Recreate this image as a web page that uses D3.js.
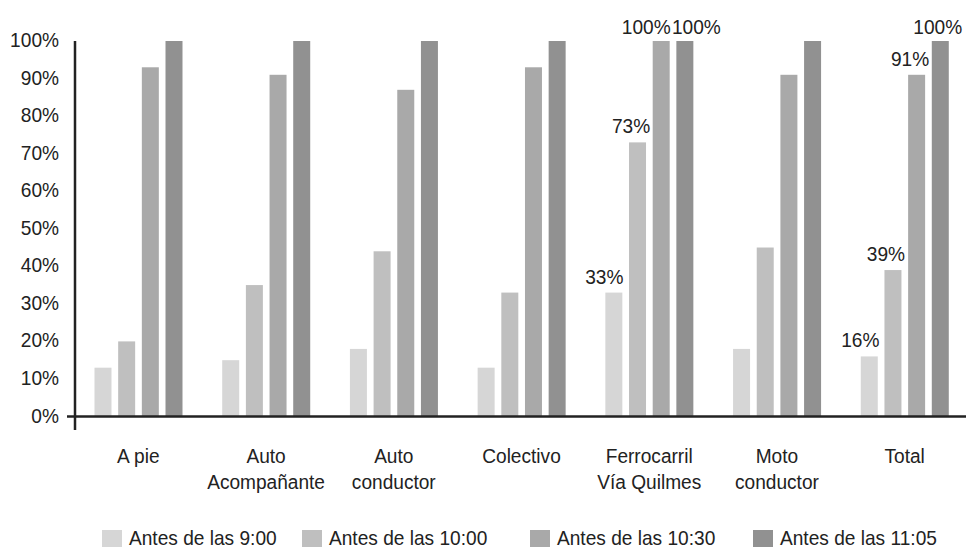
<!DOCTYPE html>
<html>
<head>
<meta charset="utf-8">
<script src="https://cdn.jsdelivr.net/npm/d3@7/dist/d3.min.js"></script>
<style>
  html, body { margin: 0; padding: 0; background: #ffffff; overflow: hidden; }
  svg { display: block; }
  text { font-family: "Liberation Sans", Arial, sans-serif; fill: #222222; }
</style>
</head>
<body>
<svg id="chart" width="966" height="549"></svg>
<script>
// ---- data ----
const categories = ["A pie", "Auto\nAcompañante", "Auto\nconductor", "Colectivo", "Ferrocarril\nVía Quilmes", "Moto\nconductor", "Total"];
const seriesNames = ["Antes de las 9:00", "Antes de las 10:00", "Antes de las 10:30", "Antes de las 11:05"];
const antes0900 = [13, 15, 18, 13, 33, 18, 16];
const antes1000 = [20, 35, 44, 33, 73, 45, 39];
const antes1030 = [93, 91, 87, 93, 100, 91, 91];
const antes1105 = [100, 100, 100, 100, 100, 100, 100];
const yTicks = [0, 10, 20, 30, 40, 50, 60, 70, 80, 90, 100];
const labelledCategories = ["Ferrocarril\nVía Quilmes", "Total"];

// ---- style / layout ----
const colors = ["#d6d6d6", "#bfbfbf", "#a9a9a9", "#919191"];
const squeeze = 0.91;
const fontSize = 21;
// horizontal nudges for data labels (layout only)
const labelNudge = {"Ferrocarril\nVía Quilmes": [-9.5, -6.5, -15, 11.5], "Total": [-9, -7, -6.5, -2.5]};
// legend swatch x positions (layout only)
const legendX = [102, 302, 530, 753];

const seriesValues = [antes0900, antes1000, antes1030, antes1105];

const svg = d3.select("#chart");

const y = d3.scaleLinear().domain([0, 100]).range([416.5, 41]);
const x0 = d3.scaleBand().domain(categories).range([74.5, 968.5]).padding(0);
const x1 = d3.scaleBand().domain(seriesNames).range([20, 108]).paddingInner(0.282).paddingOuter(0);

function squish(sel) {
  sel.each(function () {
    const w = this.getComputedTextLength();
    this.setAttribute("textLength", w * squeeze);
    this.setAttribute("lengthAdjust", "spacingAndGlyphs");
  });
}

// bars
const groups = svg.append("g").selectAll("g")
  .data(categories)
  .join("g")
  .attr("transform", d => `translate(${x0(d)},0)`);

groups.selectAll("rect")
  .data((c, ci) => seriesNames.map((s, si) => ({c, s, si, v: seriesValues[si][ci]})))
  .join("rect")
  .attr("x", d => x1(d.s))
  .attr("width", x1.bandwidth())
  .attr("y", d => y(d.v))
  .attr("height", d => y(0) - y(d.v))
  .attr("fill", d => colors[d.si]);

// data labels
groups.filter(c => labelledCategories.includes(c))
  .selectAll("text.lbl")
  .data(c => seriesNames.map((s, si) => ({c, s, si, v: seriesValues[si][categories.indexOf(c)]})))
  .join("text")
  .attr("class", "lbl")
  .attr("x", d => x1(d.s) + x1.bandwidth() / 2 + labelNudge[d.c][d.si])
  .attr("y", d => y(d.v) - (d.v >= 100 ? 7 : 9))
  .attr("text-anchor", "middle")
  .style("font-size", fontSize + "px")
  .text(d => d.v + "%")
  .call(squish);

// y axis tick labels
const yAxis = svg.append("g")
  .attr("transform", "translate(75,0)")
  .call(d3.axisLeft(y).tickValues(yTicks).tickSize(0).tickPadding(16).tickFormat(d => d + "%"));
yAxis.select(".domain").remove();
yAxis.selectAll("text")
  .attr("dy", null)
  .attr("y", 5.5)
  .style("font-size", fontSize + "px")
  .style("font-family", "\"Liberation Sans\", Arial, sans-serif")
  .attr("fill", "#222222")
  .call(squish);

// axis lines
svg.append("line")
  .attr("x1", 67).attr("x2", 966)
  .attr("y1", y(0)).attr("y2", y(0))
  .attr("stroke", "#222222").attr("stroke-width", 2.5);
svg.append("line")
  .attr("x1", 75).attr("x2", 75)
  .attr("y1", y(100)).attr("y2", 430)
  .attr("stroke", "#222222").attr("stroke-width", 2.5);

// category labels
const catG = svg.append("g").selectAll("text")
  .data(categories)
  .join("text")
  .attr("text-anchor", "middle")
  .style("font-size", fontSize + "px");
catG.each(function (c) {
  const t = d3.select(this);
  c.split("\n").forEach((line, i) => {
    t.append("tspan")
      .attr("x", x0(c) + x0.bandwidth() / 2)
      .attr("y", 463 + i * 26)
      .text(line);
  });
});
catG.each(function (c) {
  const cx = x0(c) + x0.bandwidth() / 2;
  d3.select(this).attr("transform", `translate(${cx},0) scale(${squeeze},1) translate(${-cx},0)`);
});

// legend
const legend = svg.append("g");
seriesNames.forEach((s, i) => {
  const lx = legendX[i];
  legend.append("rect")
    .attr("x", lx).attr("y", 530)
    .attr("width", 20).attr("height", 17)
    .attr("fill", colors[i]);
  legend.append("text")
    .attr("x", lx + 27).attr("y", 545)
    .style("font-size", fontSize + "px")
    .text(s)
    .call(squish);
});
</script>
</body>
</html>
